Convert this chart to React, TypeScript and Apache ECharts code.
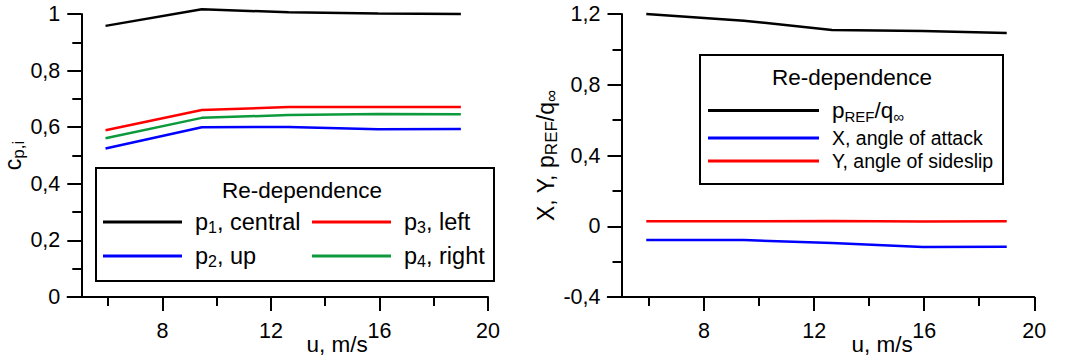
import React, { useEffect, useRef } from 'react';
import * as echarts from 'echarts';

// ---- data ----
const U = [5.9, 9.45, 12.65, 15.95, 19];
const P1 = [0.958, 1.017, 1.006, 1.002, 1.0];
const P2 = [0.525, 0.6, 0.601, 0.593, 0.594];
const P3 = [0.589, 0.661, 0.671, 0.671, 0.671];
const P4 = [0.561, 0.633, 0.643, 0.647, 0.646];
const PREF = [1.2, 1.162, 1.11, 1.104, 1.093];
const XATT = [-0.078, -0.078, -0.095, -0.117, -0.116];
const YSIDE = [0.028, 0.028, 0.029, 0.027, 0.028];
const X_MAJOR = [8, 12, 16, 20];
const X_MINOR = [6, 10, 14, 18];
const LEFT_NAMES = ['p1, central', 'p2, up', 'p3, left', 'p4, right'];
const LEFT_LABELS = ['{m|p}{s|1}{n|, central}', '{m|p}{s|2}{n|, up}', '{m|p}{s|3}{n|, left}', '{m|p}{s|4}{n|, right}'];
const RIGHT_NAMES = ['pREF/q∞', 'X, angle of attack', 'Y, angle of sideslip'];
const RIGHT_LABELS = ['{m|p}{s|REF}{n|/q}{s|∞}', '{k|X, angle of attack}', '{k|Y, angle of sideslip}'];
const LEGEND_TITLE = 'Re-dependence';
const X_NAME = 'u, m/s';
const LEFT_Y_NAME = '{c|c}{s|p,i}';
const RIGHT_Y_NAME = '{c|X, Y, p}{s|REF}{c|/q}{s|∞}';

const FONT = 'Liberation Sans, Arial, sans-serif';
const BLACK = '#000000';
const BLUE = '#0000ff';
const RED = '#ff0000';
const GREEN = '#0c9a3c';

const fmt = (v: number) => String(Number(v.toFixed(2))).replace('.', ',');

const axisLine = { show: true, onZero: false, lineStyle: { color: '#000', width: 2 } };
const tickStyle = { color: '#000', width: 2 };

function xAxes(gridIndex: number) {
  return [
    {
      type: 'value', gridIndex, min: 4.5, max: 20, position: 'bottom',
      axisLine,
      axisTick: { show: true, customValues: X_MAJOR, length: 14, lineStyle: tickStyle },
      axisLabel: { show: true, customValues: X_MAJOR, margin: 23, fontSize: 21.5, color: '#000', fontFamily: FONT },
      splitLine: { show: false },
    },
    {
      type: 'value', gridIndex, min: 4.5, max: 20, position: 'bottom', offset: 0,
      axisLine: { show: false, onZero: false },
      axisTick: { show: true, customValues: X_MINOR, length: 9, lineStyle: tickStyle },
      axisLabel: { show: false },
      splitLine: { show: false },
    },
  ];
}

function yAxis(gridIndex: number, min: number, max: number, interval: number, name: string, nameGap: number, mainSize: number, subSize: number) {
  return {
    type: 'value', gridIndex, min, max, interval, offset: -13.75,
    axisLine,
    axisTick: { show: true, length: 14, lineStyle: tickStyle },
    minorTick: { show: true, splitNumber: 2, length: 9, lineStyle: tickStyle },
    axisLabel: { margin: 21, fontSize: 21.5, color: '#000', fontFamily: FONT, formatter: fmt },
    splitLine: { show: false },
    minorSplitLine: { show: false },
    name, nameLocation: 'middle', nameRotate: 90, nameGap,
    nameTextStyle: {
      fontFamily: FONT, color: '#000',
      rich: {
        c: { fontSize: mainSize, fontFamily: FONT, color: '#000', lineHeight: 28 },
        s: { fontSize: subSize, fontFamily: FONT, color: '#000', lineHeight: 28, verticalAlign: 'bottom' },
      },
    },
  };
}

function line(name: string, xIdx: number, yIdx: number, ys: number[], color: string) {
  return {
    type: 'line', name, xAxisIndex: xIdx, yAxisIndex: yIdx,
    data: U.map((u, i) => [u, ys[i]]),
    symbol: 'none', silent: true, clip: false,
    lineStyle: { color, width: 2.5 }, itemStyle: { color },
  };
}

function legend(name: string, label: string, left: number, top: number, w: number, main: number, sub: number) {
  return {
    data: [name], left, top, padding: 0, icon: 'rect', itemWidth: w, itemHeight: 3,
    selectedMode: false, formatter: () => label,
    textStyle: {
      fontFamily: FONT, fontSize: main, color: '#000',
      rich: {
        m: { fontSize: main, fontFamily: FONT, color: '#000', lineHeight: 26, padding: [0, 0, 0, 8] },
        n: { fontSize: main, fontFamily: FONT, color: '#000', lineHeight: 26 },
        s: { fontSize: sub, fontFamily: FONT, color: '#000', lineHeight: 26, verticalAlign: 'bottom' },
        k: { fontSize: 19.5, fontFamily: FONT, color: '#000', lineHeight: 26, padding: [0, 0, 0, 8] },
      },
    },
  };
}

export default function App() {
  const ref = useRef<HTMLDivElement>(null);
  useEffect(() => {
    if (!ref.current) return;
    const chart = echarts.init(ref.current, null, { renderer: 'svg' });
    chart.setOption({
      animation: false,
      backgroundColor: '#fff',
      grid: [
        { left: 61.75, top: 14, width: 426.25, height: 283 },
        { left: 607.75, top: 14, width: 426.5, height: 283 },
      ],
      xAxis: [...xAxes(0), ...xAxes(1)],
      yAxis: [
        yAxis(0, 0, 1, 0.2, LEFT_Y_NAME, 49, 23, 17),
        yAxis(1, -0.4, 1.2, 0.4, RIGHT_Y_NAME, 61, 23, 17),
      ],
      series: [
        line(LEFT_NAMES[0], 0, 0, P1, BLACK),
        line(LEFT_NAMES[1], 0, 0, P2, BLUE),
        line(LEFT_NAMES[2], 0, 0, P3, RED),
        line(LEFT_NAMES[3], 0, 0, P4, GREEN),
        line(RIGHT_NAMES[0], 2, 1, PREF, BLACK),
        line(RIGHT_NAMES[1], 2, 1, XATT, BLUE),
        line(RIGHT_NAMES[2], 2, 1, YSIDE, RED),
      ],
      legend: [
        legend(LEFT_NAMES[0], LEFT_LABELS[0], 103, 223 - 13, 79, 23.5, 16),
        legend(LEFT_NAMES[1], LEFT_LABELS[1], 103, 257 - 13, 79, 23.5, 16),
        legend(LEFT_NAMES[2], LEFT_LABELS[2], 312, 223 - 13, 79, 23.5, 16),
        legend(LEFT_NAMES[3], LEFT_LABELS[3], 312, 257 - 13, 79, 23.5, 16),
        legend(RIGHT_NAMES[0], RIGHT_LABELS[0], 708, 112 - 13, 111, 22.5, 15),
        legend(RIGHT_NAMES[1], RIGHT_LABELS[1], 708, 141 - 13, 111, 22.5, 15),
        legend(RIGHT_NAMES[2], RIGHT_LABELS[2], 708, 164 - 13, 111, 22.5, 15),
      ],
      graphic: [
        { type: 'rect', z: 0, shape: { x: 96, y: 168, width: 398, height: 113 }, style: { fill: '#fff', stroke: '#000', lineWidth: 2 } },
        { type: 'rect', z: 0, shape: { x: 700, y: 55, width: 303, height: 129 }, style: { fill: '#fff', stroke: '#000', lineWidth: 2 } },
        { type: 'text', z: 5, x: 302, y: 190, style: { text: LEGEND_TITLE, fill: '#000', fontSize: 22.5, fontFamily: FONT, align: 'center', verticalAlign: 'middle' } },
        { type: 'text', z: 5, x: 852, y: 77, style: { text: LEGEND_TITLE, fill: '#000', fontSize: 22.5, fontFamily: FONT, align: 'center', verticalAlign: 'middle' } },
        { type: 'text', z: 5, x: 337, y: 344, style: { text: X_NAME, fill: '#000', fontSize: 22.5, fontFamily: FONT, align: 'center', verticalAlign: 'middle' } },
        { type: 'text', z: 5, x: 882, y: 344, style: { text: X_NAME, fill: '#000', fontSize: 22.5, fontFamily: FONT, align: 'center', verticalAlign: 'middle' } },
      ],
    });
    return () => chart.dispose();
  }, []);
  return <div ref={ref} style={{ position: 'fixed', left: 0, top: 0, width: 1068, height: 360 }} />;
}
